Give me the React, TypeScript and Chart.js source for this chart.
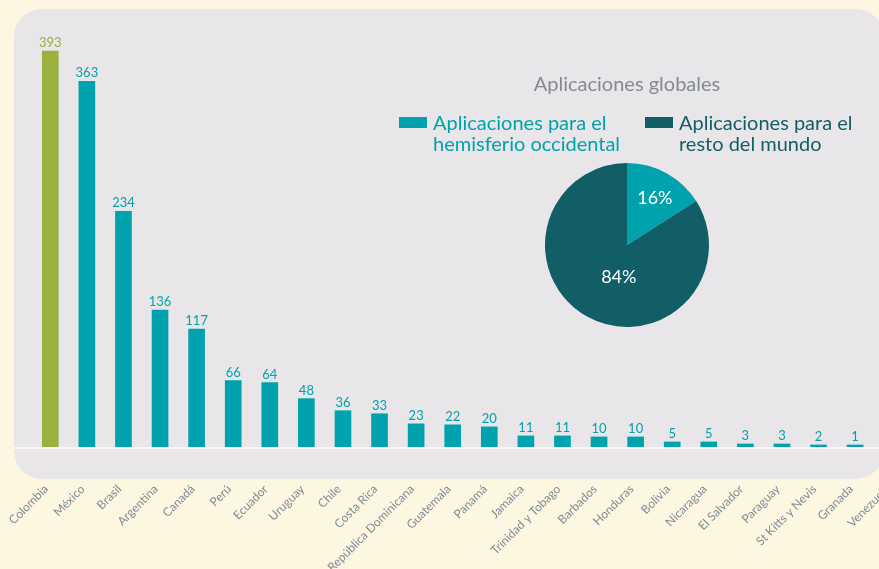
import React, { useEffect, useRef } from "react";
import { Chart, registerables } from "chart.js";

Chart.register(...registerables);

// ---- Data ----
const countries = [
  "Colombia", "México", "Brasil", "Argentina", "Canadá", "Perú", "Ecuador", "Uruguay",
  "Chile", "Costa Rica", "República Dominicana", "Guatemala", "Panamá", "Jamaica",
  "Trinidad y Tobago", "Barbados", "Honduras", "Bolivia", "Nicaragua", "El Salvador",
  "Paraguay", "St Kitts y Nevis", "Granada", "Venezuela",
];
const applications = [393, 363, 234, 136, 117, 66, 64, 48, 36, 33, 23, 22, 20, 11, 11, 10, 10, 5, 5, 3, 3, 2, 1, 1];
const highlightedCountry = "Colombia";

const pieTitle = "Aplicaciones globales";
const pieLabels = ["Aplicaciones para el hemisferio occidental", "Aplicaciones para el resto del mundo"];
const pieLegendLines = [
  ["Aplicaciones para el", "hemisferio occidental"],
  ["Aplicaciones para el", "resto del mundo"],
];
const pieShares = [16, 84];

// ---- Styles ----
const CREAM = "#FDF7E1";
const PANEL = "#E8E6E8";
const TEAL = "#00A3AD";
const GREEN = "#9AB03F";
const DARK_TEAL = "#115E67";
const GRAY_TEXT = "#808C95";
const FONT = "Lato, 'Open Sans', sans-serif";

const barColors = countries.map((c) => (c === highlightedCountry ? GREEN : TEAL));
const pieColors = [TEAL, DARK_TEAL];
const pieLabelOffsets = [
  [0.34, -0.57],
  [-0.1, 0.395],
];

const panelPlugin = {
  id: "panelBg",
  beforeDraw(chart: any) {
    const ctx = chart.ctx;
    ctx.save();
    ctx.fillStyle = PANEL;
    ctx.beginPath();
    ctx.roundRect(14, 9, 870, 470, 28);
    ctx.fill();
    ctx.restore();
  },
  beforeDatasetsDraw(chart: any) {
    const ctx = chart.ctx;
    const y0 = chart.scales.y.getPixelForValue(0);
    ctx.save();
    ctx.fillStyle = "#FAF7EF";
    ctx.fillRect(14, y0, 870, 2);
    ctx.restore();
  },
};

const valueLabelPlugin = {
  id: "valueLabels",
  afterDatasetsDraw(chart: any) {
    const ctx = chart.ctx;
    const meta = chart.getDatasetMeta(0);
    ctx.save();
    ctx.font = `13px ${FONT}`;
    ctx.textAlign = "center";
    ctx.textBaseline = "alphabetic";
    meta.data.forEach((bar: any, i: number) => {
      ctx.fillStyle = barColors[i];
      ctx.fillText(String(applications[i]), bar.x, bar.y - 4);
    });
    ctx.restore();
  },
};

const pieLabelPlugin = {
  id: "pieLabels",
  afterDatasetsDraw(chart: any) {
    const ctx = chart.ctx;
    const meta = chart.getDatasetMeta(0);
    ctx.save();
    ctx.font = `18px ${FONT}`;
    ctx.fillStyle = "#FFFFFF";
    ctx.textAlign = "center";
    ctx.textBaseline = "middle";
    meta.data.forEach((arc: any, i: number) => {
      const r = arc.outerRadius;
      const [fx, fy] = pieLabelOffsets[i];
      ctx.fillText(`${pieShares[i]}%`, arc.x + fx * r, arc.y + fy * r);
    });
    ctx.restore();
  },
};

export default function App() {
  const barRef = useRef<HTMLCanvasElement>(null);
  const pieRef = useRef<HTMLCanvasElement>(null);

  useEffect(() => {
    Chart.defaults.font.family = FONT;
    const bar = new Chart(barRef.current as HTMLCanvasElement, {
      type: "bar",
      data: {
        labels: countries,
        datasets: [
          {
            data: applications,
            backgroundColor: barColors,
            barThickness: 16,
            minBarLength: 2,
            borderWidth: 0,
          },
        ],
      },
      options: {
        responsive: false,
        maintainAspectRatio: false,
        animation: false,
        layout: { padding: { left: 32, right: 10, top: 44, bottom: 0 }, autoPadding: false },
        plugins: { legend: { display: false }, tooltip: { enabled: false }, title: { display: false } },
        scales: {
          x: {
            grid: { display: false, drawTicks: false },
            border: { display: false },
            ticks: {
              autoSkip: false,
              maxRotation: 45,
              minRotation: 45,
              padding: 35,
              labelOffset: -4,
              color: GRAY_TEXT,
              font: { size: 12, family: FONT },
            },
            afterFit: (scale: any) => {
              scale.height = 122;
              scale.paddingLeft = 0;
              scale.paddingRight = 0;
            },
          },
          y: { display: false, min: 0, max: 400 },
        },
      },
      plugins: [panelPlugin, valueLabelPlugin],
    } as any);

    const pie = new Chart(pieRef.current as HTMLCanvasElement, {
      type: "pie",
      data: {
        labels: pieLabels,
        datasets: [{ data: pieShares, backgroundColor: pieColors, borderWidth: 0 }],
      },
      options: {
        responsive: false,
        maintainAspectRatio: false,
        animation: false,
        layout: { padding: 18 },
        plugins: { legend: { display: false }, tooltip: { enabled: false }, title: { display: false } },
      },
      plugins: [pieLabelPlugin],
    } as any);

    return () => {
      bar.destroy();
      pie.destroy();
    };
  }, []);

  const legendColors = [TEAL, DARK_TEAL];
  const legendLeft = [399, 645];

  return (
    <div
      style={{
        position: "fixed",
        left: 0,
        top: 0,
        width: 879,
        height: 569,
        overflow: "hidden",
        background: CREAM,
        fontFamily: FONT,
      }}
    >
      <canvas ref={barRef} width={920} height={569} style={{ position: "absolute", left: 0, top: 0 }} />
      <div
        style={{
          position: "absolute",
          left: 427,
          width: 400,
          top: 73,
          textAlign: "center",
          fontSize: 20,
          lineHeight: "21px",
          color: GRAY_TEXT,
          whiteSpace: "nowrap",
        }}
      >
        {pieTitle}
      </div>
      {pieLegendLines.map((lines, i) => (
        <div key={i} style={{ position: "absolute", left: legendLeft[i], top: 112, display: "flex" }}>
          <div style={{ width: 28, height: 11, background: legendColors[i], marginTop: 5, marginRight: 6 }} />
          <div
            style={{
              fontSize: 20,
              lineHeight: "21px",
              color: legendColors[i],
              whiteSpace: "nowrap",
            }}
          >
            {lines.map((l, j) => (
              <div key={j}>{l}</div>
            ))}
          </div>
        </div>
      ))}
      <canvas ref={pieRef} width={200} height={200} style={{ position: "absolute", left: 527, top: 145 }} />
    </div>
  );
}
